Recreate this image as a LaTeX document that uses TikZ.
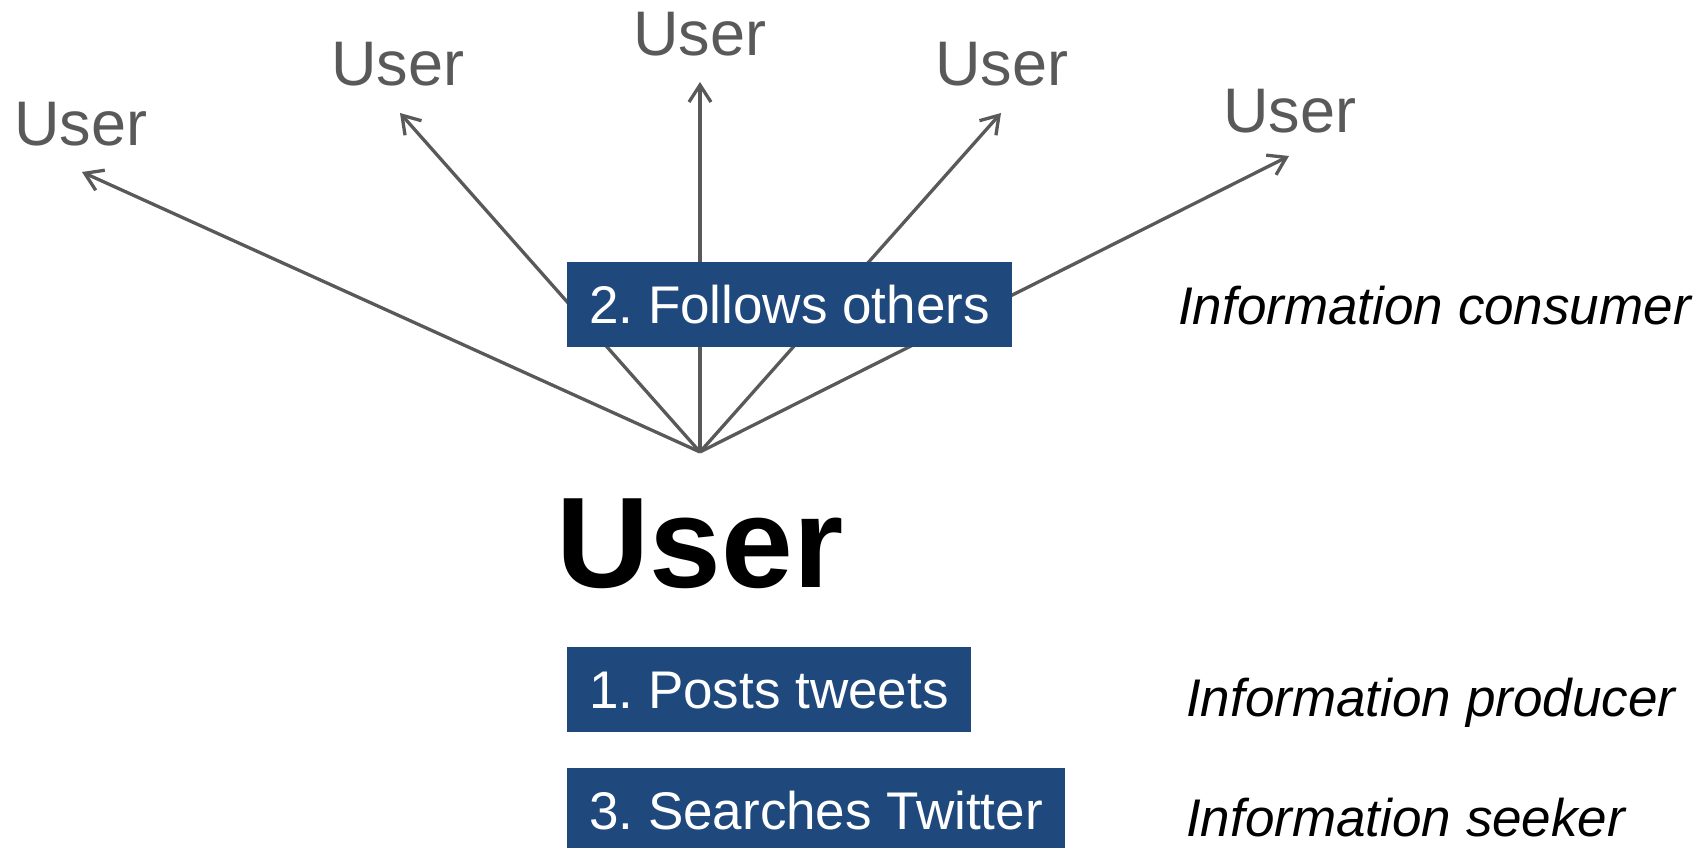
\documentclass[tikz,border=0pt]{standalone}
\usepackage{fontspec}
\setmainfont{Liberation Sans}
\usetikzlibrary{arrows.meta}
\definecolor{boxblue}{HTML}{1F497D}
\definecolor{linegray}{HTML}{595959}
\frenchspacing
\begin{document}
\begin{tikzpicture}[x=1pt,y=-1pt,
  arr/.style={draw=linegray,line width=3.3pt,-{Straight Barb[length=17pt,width=22pt]}},
  smalluser/.style={anchor=base,inner sep=0pt,text=linegray,font=\fontsize{63}{70}\selectfont},
  bigu/.style={anchor=base,inner sep=0pt,text=black,font=\fontsize{129}{140}\selectfont\bfseries},
  stepbox/.style={anchor=north west,fill=boxblue,text=white,inner xsep=22pt,inner ysep=0pt,
    minimum height=85pt,text height=38pt,text depth=0pt,font=\fontsize{53}{60}\selectfont\frenchspacing},
  role/.style={anchor=base west,inner sep=0pt,text=black,font=\fontsize{53}{60}\selectfont\itshape}]
\useasboundingbox (0,0) rectangle (1707,848);
% hub and arrow tips
\coordinate (hub) at (700,452);
\coordinate (t1) at (82,172);
\coordinate (t2) at (400,113);
\coordinate (t3) at (700,82);
\coordinate (t4) at (1001,113);
\coordinate (t5) at (1289,156);
% other users
\node[smalluser] (u1) at (81,146) {User};
\node[smalluser] (u2) at (398,86) {User};
\node[smalluser] (u3) at (700,56) {User};
\node[smalluser] (u4) at (1002,86) {User};
\node[smalluser] (u5) at (1290,132) {User};
% arrows
\draw[arr] (hub) -- (t1);
\draw[arr] (hub) -- (t2);
\draw[arr] (hub) -- (t3);
\draw[arr] (hub) -- (t4);
\draw[arr] (hub) -- (t5);
% central user
\node[bigu] (user) at (700,587) {User};
% step boxes
\node[stepbox] (follows) at (567,262) {2. Follows others};
\node[stepbox] (posts) at (567,647) {1. Posts tweets};
\node[stepbox] (searches) at (567,768) {3. Searches Twitter};
% roles
\node[role] (consumer) at (1178,324) {Information consumer};
\node[role] (producer) at (1186,716) {Information producer};
\node[role] (seeker) at (1186,836) {Information seeker};
\end{tikzpicture}
\end{document}
